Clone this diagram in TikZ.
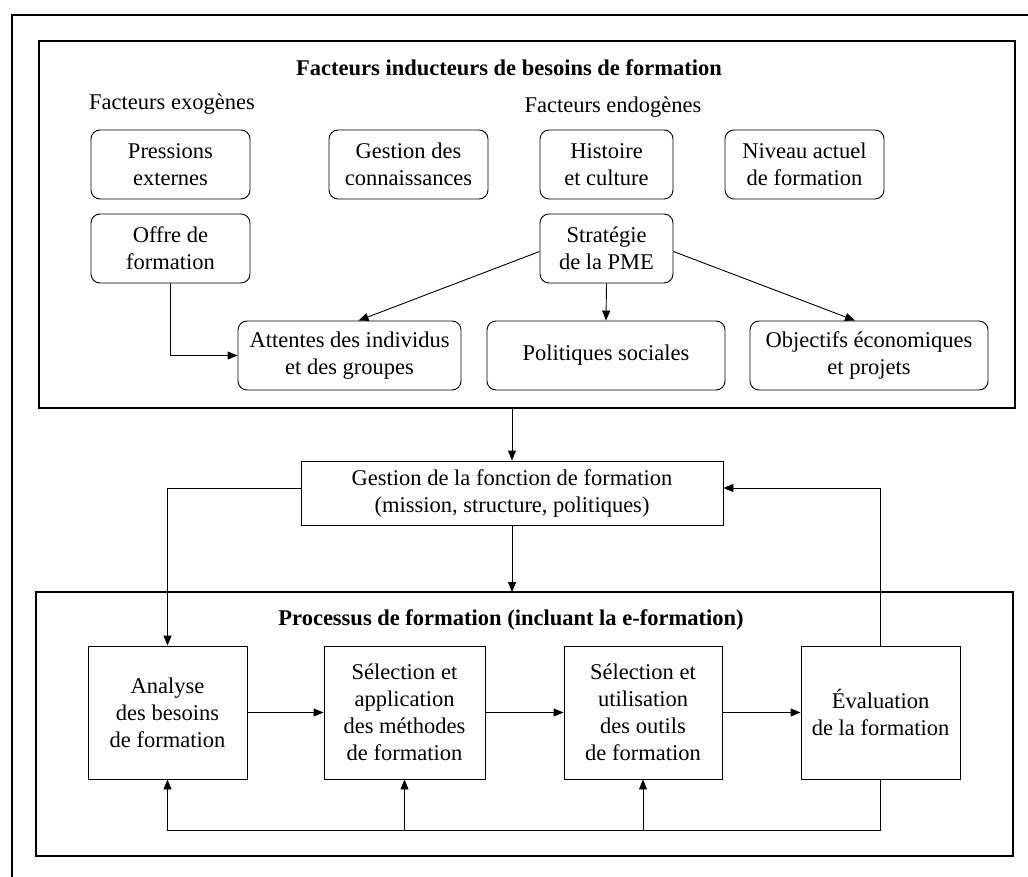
\documentclass[tikz,border=0pt]{standalone}
\usepackage{fontspec}
\setmainfont{Liberation Serif}
\usetikzlibrary{arrows.meta,calc}
\begin{document}
\begin{tikzpicture}[x=1pt,y=-1pt,
  every node/.style={font=\fontsize{22.5}{27}\selectfont},
  arr/.style={line width=0.9pt,-{Triangle[length=10pt,width=8pt]}},
  rbox/.style={draw,line width=0.9pt,rounded corners=9pt,align=center,inner sep=0pt,minimum height=69pt},
  sbox/.style={draw,line width=0.9pt,align=center,inner sep=0pt},
  frame/.style={draw,line width=1.2pt},
  heading/.style={font=\fontsize{22.5}{27}\selectfont\bfseries},
  plain/.style={inner sep=0pt}]
\useasboundingbox (0,0) rectangle (1028,877);

% outer border, running past the page on the right and bottom
\draw[line width=2pt] (1040,15) -- (12,15) -- (12,890);

% upper frame: factors
\draw[frame] (39,41) rectangle (1015,408);
\node[heading] (t1) at (509,68) {Facteurs inducteurs de besoins de formation};
\node[plain] (exo) at (172,104) {Facteurs exogènes};
\node[plain] (endo) at (613,107) {Facteurs endogènes};

\node[rbox,minimum width=159pt] (press) at (170.5,164.5) {Pressions\\externes};
\node[rbox,minimum width=159pt] (offre) at (170.5,248.5) {Offre de\\formation};
\node[rbox,minimum width=159pt] (conn) at (408.5,164.5) {Gestion des\\connaissances};
\node[rbox,minimum width=133pt] (hist) at (606.5,164.5) {Histoire\\et culture};
\node[rbox,minimum width=159pt] (niv) at (804.5,164.5) {Niveau actuel\\de formation};
\node[rbox,minimum width=133pt] (strat) at (606.5,248.5) {Stratégie\\de la PME};
\node[rbox,minimum width=223pt] (att) at (349.5,355.5) {Attentes des individus\\et des groupes};
\node[rbox,minimum width=238pt] (pol) at (606,355.5) {Politiques sociales};
\node[rbox,minimum width=238pt] (obj) at (869,355.5) {Objectifs économiques\\et projets};

\draw[arr] ($(strat.west)+(0,3)$) -- ($(att.north)+(9,0)$);
\draw[arr] (strat.south) -- (pol.north);
\draw[arr] ($(strat.east)+(0,3)$) -- ($(obj.north)+(-14,0)$);
\draw[arr] (offre.south) |- (att.west);

% management of the training function
\coordinate (topout) at (512,408);
\node[sbox,minimum width=422pt,minimum height=64pt] (gest) at (512,493)
  {Gestion de la fonction de formation\\(mission, structure, politiques)};
\draw[arr] (topout) -- (gest.north);

% lower frame: training process
\draw[frame] (36,592) rectangle (1013,856);
\coordinate (procin) at (512,592);
\node[heading] (t2) at (511,620) {Processus de formation (incluant la e-formation)};

\node[sbox,minimum width=159pt,minimum height=133pt] (ana) at (167.5,712.5) {Analyse\\des besoins\\de formation};
\node[sbox,minimum width=161pt,minimum height=133pt] (sela) at (404.5,712.5) {Sélection et\\application\\des méthodes\\de formation};
\node[sbox,minimum width=158pt,minimum height=133pt] (selu) at (643,712.5) {Sélection et\\utilisation\\des outils\\de formation};
\node[sbox,minimum width=159pt,minimum height=133pt] (eval) at (880.5,712.5) {Évaluation\\de la formation};

\draw[arr] (gest.south) -- (procin);
\draw[arr] ($(gest.west)+(0,-5)$) -| (ana.north);
\draw[arr] (eval.north) |- ($(gest.east)+(0,-5)$);

\draw[arr] (ana.east) -- (sela.west);
\draw[arr] (sela.east) -- (selu.west);
\draw[arr] (selu.east) -- (eval.west);

% feedback loop under the process steps
\coordinate (fb) at (0,830);
\draw[arr] (eval.south) -- (eval.south |- fb) -| (ana.south);
\draw[arr] (sela.south |- fb) -- (sela.south);
\draw[arr] (selu.south |- fb) -- (selu.south);
\end{tikzpicture}
\end{document}
